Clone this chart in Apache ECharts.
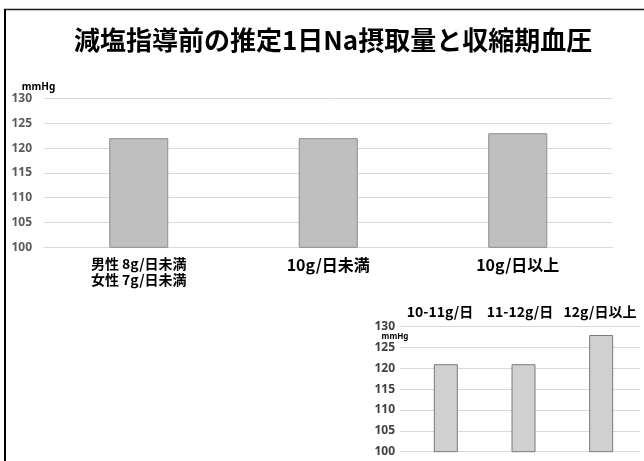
<!DOCTYPE html>
<html>
<head>
<meta charset="utf-8">
<script src="https://cdn.jsdelivr.net/npm/echarts@6/dist/echarts.min.js"></script>
<style>
html,body{margin:0;padding:0;background:#fff;}
#c{width:644px;height:461px;}
</style>
</head>
<body>
<div id="c"></div>
<script>
const titleText = '減塩指導前の推定1日Na摂取量と収縮期血圧';
const unitLabel = 'mmHg';
const mainCategories = ['男性 8g/日未満\n女性 7g/日未満', '10g/日未満', '10g/日以上'];
const mainValues = [122, 122, 123];
const insetCategories = ['10-11g/日', '11-12g/日', '12g/日以上'];
const insetValues = [121, 121, 128];
const yMin = 100, yMax = 130, yStep = 5;

const JP = '"Noto Sans CJK JP", "Noto Sans", sans-serif';
const chart = echarts.init(document.getElementById('c'), null, {renderer: 'canvas'});

const hiddenX = (gi, data) => ({
  type: 'category', gridIndex: gi, data: data, show: false
});

chart.setOption({
  backgroundColor: '#ffffff',
  animation: false,
  title: {
    text: titleText,
    left: 69, top: 22,
    textStyle: {fontFamily: JP, fontSize: 26, fontWeight: 'bold', color: '#000'}
  },
  grid: [
    {left: 44, right: 31.5, top: 98.5, bottom: 213.7},
    {left: 400, right: 4, top: 326.7, bottom: 9.3},
    {left: 407, right: 4, top: 326.7, bottom: 9.3}
  ],
  xAxis: [
    {
      type: 'category', gridIndex: 0, data: mainCategories,
      axisTick: {show: false},
      axisLine: {show: true, lineStyle: {color: '#d9d9d9', width: 1}},
      axisLabel: {
        interval: 0, margin: 8,
        formatter: function (v, i) {
          if (v.indexOf('\n') >= 0) {
            return v.split('\n').map(s => '{s|' + s + '}').join('\n');
          }
          return '{b|' + v + '}';
        },
        rich: {
          s: {fontFamily: JP, fontSize: 14, lineHeight: 16, fontWeight: 'bold', color: '#000'},
          b: {fontFamily: JP, fontSize: 16, lineHeight: 20, fontWeight: 'bold', color: '#000'}
        }
      }
    },
    {
      type: 'category', gridIndex: 1, data: insetCategories, position: 'top',
      axisTick: {show: false}, axisLine: {show: false},
      axisLabel: {interval: 0, margin: 8, fontFamily: JP, fontSize: 14, fontWeight: 'bold', color: '#000'}
    },
    {
      type: 'category', gridIndex: 2, data: insetCategories,
      axisTick: {show: false}, axisLine: {show: false}, axisLabel: {show: false}
    }
  ],
  yAxis: [
    {
      type: 'value', gridIndex: 0, min: yMin, max: yMax, interval: yStep,
      axisLine: {show: false}, axisTick: {show: false},
      splitLine: {lineStyle: {color: '#d9d9d9', width: 1}},
      axisLabel: {margin: 12, fontFamily: '"Noto Sans", sans-serif', fontSize: 12, fontWeight: 'bold', color: '#595959'}
    },
    {
      type: 'value', gridIndex: 1, min: yMin, max: yMax, interval: yStep,
      axisLine: {show: false}, axisTick: {show: false},
      splitLine: {lineStyle: {color: '#d9d9d9', width: 1}},
      axisLabel: {margin: 5, fontFamily: '"Noto Sans", sans-serif', fontSize: 12, fontWeight: 'bold', color: '#404040'}
    },
    {
      type: 'value', gridIndex: 2, min: yMin, max: yMax, interval: yStep,
      show: false, splitLine: {show: false}
    }
  ],
  series: [
    {
      type: 'bar', xAxisIndex: 0, yAxisIndex: 0, data: mainValues,
      barWidth: 59,
      itemStyle: {color: '#bfbfbf', borderColor: '#8c8c8c', borderWidth: 1}
    },
    {
      type: 'bar', xAxisIndex: 2, yAxisIndex: 2, data: insetValues,
      barWidth: 24,
      itemStyle: {color: '#d0d0d0', borderColor: '#7a7a7a', borderWidth: 1}
    }
  ],
  graphic: [
    {type: 'line', shape: {x1: 4, y1: 9.5, x2: 644, y2: 9.5}, style: {stroke: '#1a1a1a', lineWidth: 1.5}},
    {type: 'line', shape: {x1: 5, y1: 9, x2: 5, y2: 461}, style: {stroke: '#000', lineWidth: 2}},
    {type: 'text', x: 38.5, y: 87, style: {text: unitLabel, align: 'center', verticalAlign: 'middle',
      font: 'bold 10px "Noto Sans", sans-serif', fill: '#000'}},
    {type: 'text', x: 395, y: 336.5, style: {text: unitLabel, align: 'center', verticalAlign: 'middle',
      font: 'bold 8px "Noto Sans", sans-serif', fill: '#000'}}
  ]
});
</script>
</body>
</html>
